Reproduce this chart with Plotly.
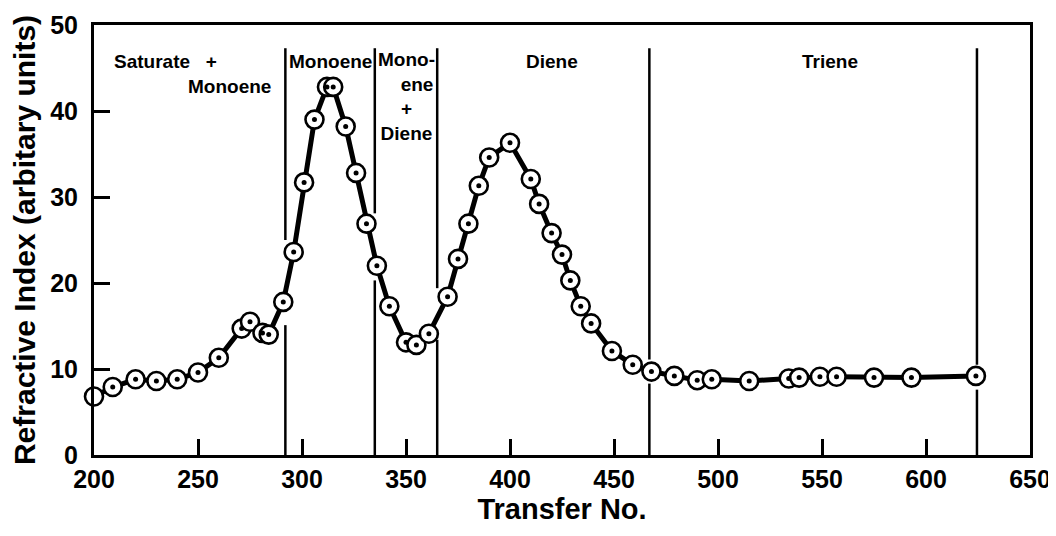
import plotly.graph_objects as go

# ---- data ----
transfer_no = [200, 209, 220, 230, 240, 250, 260, 271, 275, 281, 284, 291, 296,
               301, 306, 312, 315, 321, 326, 331, 336, 342, 350, 355, 361,
               370, 375, 380, 385, 390, 400, 410, 414, 420, 425, 429, 434, 439,
               449, 459, 468, 479, 490, 497, 515, 534, 539, 549, 557, 575, 593, 624]
refractive_index = [6.8, 7.9, 8.8, 8.6, 8.8, 9.6, 11.3, 14.7, 15.5, 14.2, 14.0, 17.8, 23.6,
                    31.7, 39.0, 42.8, 42.8, 38.2, 32.8, 26.9, 22.0, 17.3, 13.1, 12.8, 14.1,
                    18.4, 22.8, 26.9, 31.3, 34.6, 36.3, 32.1, 29.2, 25.8, 23.3, 20.3, 17.3, 15.3,
                    12.1, 10.5, 9.7, 9.2, 8.7, 8.8, 8.6, 8.9, 9.0, 9.1, 9.1, 9.0, 9.0, 9.2]

# region boundaries (transfer no.) and the break in each boundary line where the curve passes
boundaries = [292, 335, 365, 467, 624.5]
break_low = [15.1, 20.3, 13.4, 8.3, 7.6]
break_high = [25.0, 28.1, 19.4, 11.1, 10.5]
boundary_top = 47.3

x_ticks = [200, 250, 300, 350, 400, 450, 500, 550, 600, 650]
y_ticks = [0, 10, 20, 30, 40, 50]

FONT = "Liberation Sans, Arial, sans-serif"

fig = go.Figure()

fig.add_trace(go.Scatter(
    x=transfer_no, y=refractive_index, mode="lines+markers",
    line=dict(color="black", width=5),
    marker=dict(symbol="circle", size=18, color="white",
                line=dict(color="black", width=2.6)),
    cliponaxis=False, showlegend=False, hoverinfo="x+y"))
fig.add_trace(go.Scatter(
    x=transfer_no[1:], y=refractive_index[1:], mode="markers",
    marker=dict(symbol="circle", size=5, color="black"),
    cliponaxis=False, showlegend=False, hoverinfo="skip"))

shapes = []
for b, lo, hi in zip(boundaries, break_low, break_high):
    shapes.append(dict(type="line", xref="x", yref="y", x0=b, x1=b, y0=0, y1=lo,
                       line=dict(color="black", width=2.5), layer="below"))
    shapes.append(dict(type="line", xref="x", yref="y", x0=b, x1=b, y0=hi, y1=boundary_top,
                       line=dict(color="black", width=2.5), layer="below"))

label_font = dict(family=FONT, size=19, color="black")
annotations = [
    dict(x=208.5, y=45.7, text="<b>Saturate&nbsp;&nbsp;&nbsp;+</b>", xanchor="left"),
    dict(x=286, y=42.9, text="<b>Monoene</b>", xanchor="right"),
    dict(x=313.9, y=45.7, text="<b>Monoene</b>", xanchor="center"),
    dict(x=350.4, y=41.7,
         text="<b>Mono-</b><br><b>&nbsp;&nbsp;&nbsp;&nbsp;ene</b><br><b>+</b><br><b>Diene</b>",
         xanchor="center", align="center"),
    dict(x=420.2, y=45.7, text="<b>Diene</b>", xanchor="center"),
    dict(x=553.8, y=45.7, text="<b>Triene</b>", xanchor="center"),
]
for a in annotations:
    a.update(xref="x", yref="y", yanchor="middle", showarrow=False, font=label_font)

# the page adds an 8px body margin, so the figure is sized to fit the 1056x536 window
fig.update_layout(
    width=1048, height=528,
    margin=dict(l=86, r=26, t=17, b=81),
    paper_bgcolor="white", plot_bgcolor="white",
    shapes=shapes, annotations=annotations,
    font=dict(family=FONT, color="black"),
)
fig.update_xaxes(
    range=[200, 650], tickvals=x_ticks, ticktext=[f"<b>{v}</b>" for v in x_ticks],
    showgrid=False, zeroline=False, showline=True, linecolor="black", linewidth=3,
    mirror=True, ticks="inside", ticklen=16, tickwidth=2.5, tickcolor="black",
    tickfont=dict(family=FONT, size=25, color="black"), automargin=False,
    title=dict(text="<b>Transfer No.</b>", font=dict(family=FONT, size=29, color="black"),
               standoff=6),
)
fig.update_yaxes(
    range=[0, 50], tickvals=y_ticks, ticktext=[f"<b>{v}</b>" for v in y_ticks],
    showgrid=False, zeroline=False, showline=True, linecolor="black", linewidth=3,
    mirror=True, ticks="inside", ticklen=16, tickwidth=2.5, tickcolor="black",
    tickfont=dict(family=FONT, size=25, color="black"), automargin=False,
    ticklabelstandoff=8,
    title=dict(text="<b>Refractive Index (arbitary units)</b>",
               font=dict(family=FONT, size=30, color="black"), standoff=6),
)

fig.write_html("out.html")
